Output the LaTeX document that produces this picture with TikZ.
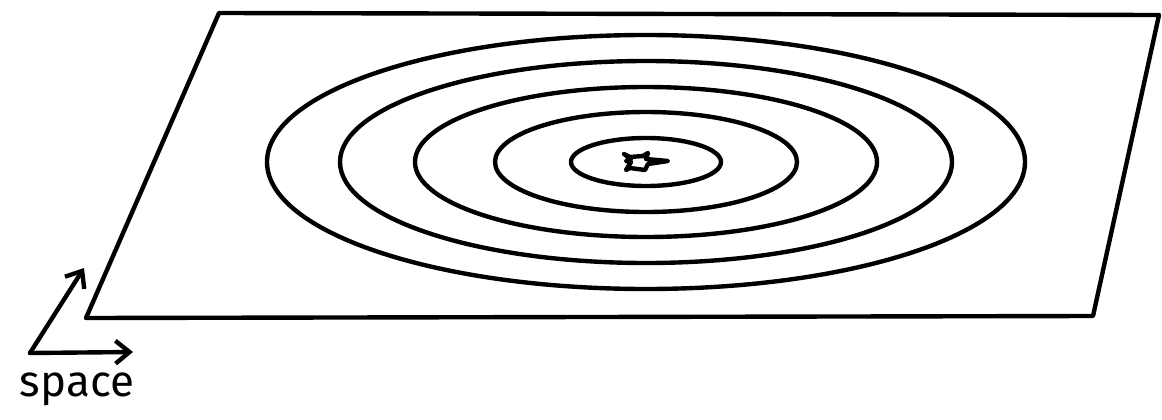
\documentclass[tikz,border=0pt]{standalone}
\usepackage{fontspec}
\newfontfamily\labelfont{Fira Sans}
\usetikzlibrary{arrows.meta}
\tikzset{
  ink/.style={line width=2.5pt, draw=black, line join=round, line cap=round},
  contour/.style={ink},
  axisarrow/.style={ink, -{Straight Barb[length=8pt,width=13pt,line width=2.5pt]}},
}
\begin{document}
\begin{tikzpicture}[x=0.02cm,y=-0.02cm]
\useasboundingbox (0,0) rectangle (1162,419);
% plane
\coordinate (p1) at (219,13);
\coordinate (p2) at (1159,15);
\coordinate (p3) at (1093,316);
\coordinate (p4) at (86,318);
\draw[ink] (p1) -- (p2) -- (p3) -- (p4) -- cycle;
% contours
\coordinate (c) at (646,162);
\draw[contour] (c) ellipse [x radius=379, y radius=127];
\draw[contour] (c) ellipse [x radius=306, y radius=101];
\draw[contour] (c) ellipse [x radius=231, y radius=75];
\draw[contour] (c) ellipse [x radius=151, y radius=50];
\draw[contour] (c) ellipse [x radius=75, y radius=24];
% minimum marker
\draw[ink, line width=2.5pt] (624,154) -- (630,157) -- (643,156) -- (648,153) -- (646,159) -- (668,161) -- (648,164) -- (645,170) -- (630,168) -- (626,170) -- (631,162) -- (626,161) -- (631,159) -- cycle;
% axes
\coordinate (o) at (30,353);
\coordinate (up) at (84,268);
\coordinate (rt) at (133,352);
\draw[axisarrow] (o) -- (up);
\draw[axisarrow] (o) -- (rt);
\node[font=\labelfont\fontsize{25}{28}\selectfont, inner sep=0pt] (lab) at (77,389) {space};
\end{tikzpicture}
\end{document}
